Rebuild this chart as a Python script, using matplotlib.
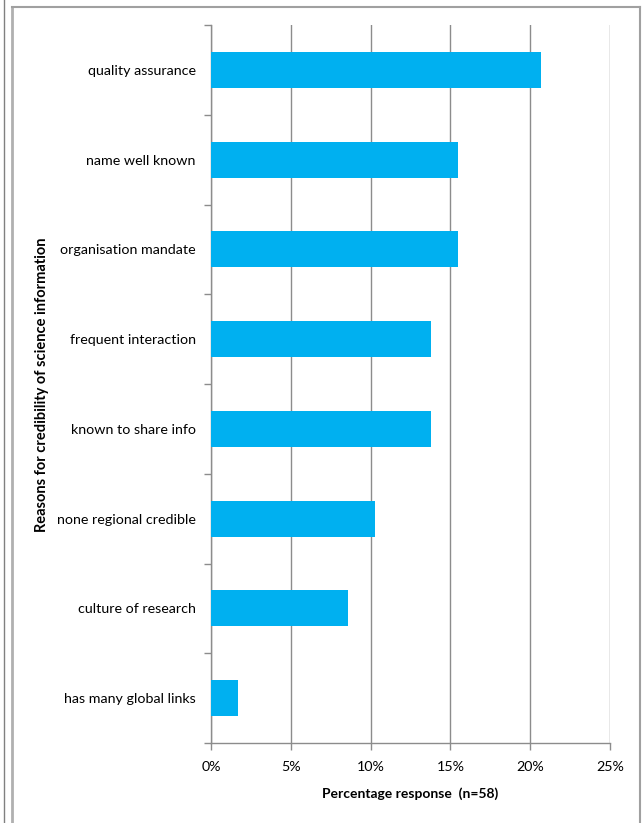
import matplotlib.pyplot as plt
from matplotlib.ticker import FuncFormatter, MultipleLocator
from matplotlib.lines import Line2D

# datos (porcentaje de respuestas, n=58)
categorias = ["quality assurance", "name well known", "organisation mandate",
              "frequent interaction", "known to share info", "none regional credible",
              "culture of research", "has many global links"]
valores = [20.7, 15.5, 15.5, 13.8, 13.8, 10.3, 8.6, 1.7]

COLOR = "#00B0F0"
GRIS = "#8c8c8c"
plt.rcParams['font.family'] = ['Lato', 'DejaVu Sans']

fig = plt.figure(figsize=(6.42, 8.23), dpi=100)
ax = fig.add_axes([211/642, 1 - 743/823, (610 - 211)/642, (743 - 25)/823])

ypos = list(range(len(categorias)))[::-1]
ax.barh(ypos, valores, height=0.4, color=COLOR, zorder=3)

ax.set_xlim(0, 25)
ax.set_ylim(-0.5, len(categorias) - 0.5)
ax.xaxis.set_major_locator(MultipleLocator(5))
ax.xaxis.set_major_formatter(FuncFormatter(lambda v, p: f"{v:.0f}%"))
ax.grid(axis='x', color=GRIS, linewidth=1, zorder=0)

ax.set_yticks(ypos)
ax.set_yticklabels(categorias, fontsize=10.3)
ax.tick_params(axis='y', length=0, pad=11)
# marcas entre categorías
ax.set_yticks([i - 0.5 for i in range(len(categorias) + 1)], minor=True)
ax.tick_params(axis='y', which='minor', length=5, color=GRIS, width=1)
ax.tick_params(axis='x', labelsize=10.3, length=5, color=GRIS, width=1, pad=8)

for s in ['top', 'right']:
    ax.spines[s].set_visible(False)
for s in ['left', 'bottom']:
    ax.spines[s].set_color(GRIS)
    ax.spines[s].set_linewidth(1)

ax.set_xlabel("Percentage response  (n=58)", fontsize=10, fontweight='bold', labelpad=10)
fig.text(42/642, 1 - 385/823, "Reasons for credibility of science information",
         rotation=90, ha='center', va='center', fontsize=10.5, fontweight='bold')

# marco del gráfico
fig.add_artist(Line2D([12/642, 12/642], [0, 1 - 7/823], color="#b0b0b0", linewidth=2,
                      transform=fig.transFigure))
fig.add_artist(Line2D([12/642, 640/642], [1 - 7/823, 1 - 7/823], color="#a0a0a0", linewidth=1.5,
                      transform=fig.transFigure))
fig.add_artist(Line2D([640/642, 640/642], [0, 1 - 7/823], color="#a0a0a0", linewidth=1.5,
                      transform=fig.transFigure))
fig.add_artist(Line2D([3.5/642, 3.5/642], [0, 1], color="#808080", linewidth=1,
                      transform=fig.transFigure))

fig.savefig("out.png", dpi=100)
